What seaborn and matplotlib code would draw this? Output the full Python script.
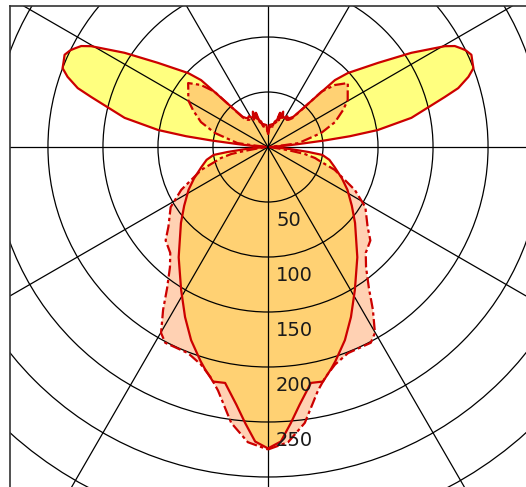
import numpy as np
import matplotlib
matplotlib.use("Agg")
import matplotlib.pyplot as plt
from matplotlib.patches import Circle
import seaborn as sns

# polar intensity curves, gamma in degrees (0 = straight down), mirrored left/right
solid_gamma = [0, 2.5, 4.7, 7.0, 10.3, 13.2, 15.8, 17.5, 21.7, 26.0, 31.3, 39.0, 48.9,
               55.0, 61.7, 67.0, 73.4, 78.2, 81.7, 83.0, 84.5, 86.0, 88.0, 90.0, 93.0, 94.2,
               95.5, 96.6, 97.5, 98.8, 101.5, 105.8, 107.2, 109.3, 111.0, 112.3, 114.4,
               116.1, 117.1, 118.4, 119.7, 123.3, 127.4, 132.8, 135.0, 136.1, 138.2,
               140.0, 142.9, 145.4, 148.0, 150.4, 153.0, 156.8, 158.5, 160.6, 161.5,
               165.0, 167.3, 170.0, 176.0, 180.0]
solid_cd = [274, 268, 252, 236, 218, 219, 210, 204, 189, 172, 152, 129, 105,
            93, 82, 73, 63, 57, 50, 37, 22, 10, 4, 2, 3, 15,
            28, 52, 75, 101, 133, 167, 181, 193, 200, 201, 203,
            200, 197, 193, 185, 156, 126, 99, 86, 66, 45,
            36, 33, 32, 33, 31, 30, 35, 28, 33, 26,
            24, 20, 21, 20, 12]

dashed_gamma = [0, 3.9, 7.6, 11.6, 13.9, 17.1, 21.2, 27.7, 29.9, 32.8, 35.5, 39.2, 42.7,
                47.6, 51.3, 58.3, 63.7, 71.1, 75.5, 76.8, 79.2, 80.5, 82.0, 85.0, 90.0,
                95.0, 96.5, 97.3, 104.8, 106.6, 110.4, 116.2, 120.4, 125.5, 128.7, 132.8,
                136.0, 138.2, 140.0, 142.9, 145.4, 148.0, 150.4, 153.0, 156.8, 158.5,
                160.6, 161.5, 165.0, 167.3, 170.0, 176.0, 180.0]
dashed_cd = [275, 269, 253, 226, 216, 207, 201, 201, 195, 176, 158, 141, 131,
             126, 116, 104, 88, 64, 47, 44, 34, 22, 10, 3, 2,
             3, 15, 28, 50, 54, 65, 76, 84, 89, 93, 83,
             70, 43, 34, 31, 30, 31, 29, 28, 32, 26,
             30, 24, 22, 19, 19, 18, 11]

ring_values = [50, 100, 150, 200, 250, 300, 350, 400]
ring_labels = ["50", "100", "150", "200", "250"]


def to_xy(gamma, cd):
    g = np.radians(np.asarray(gamma, dtype=float))
    r = np.asarray(cd, dtype=float)
    x_right, y_right = r * np.sin(g), -r * np.cos(g)
    x = np.concatenate([x_right, -x_right[::-1]])
    y = np.concatenate([y_right, y_right[::-1]])
    return x, y


sns.set_style("white")
fig = plt.figure(figsize=(5.26, 4.87), dpi=100)
ax = fig.add_axes([10 / 526, 0, 516 / 526, 481 / 487])

xs, ys = to_xy(solid_gamma, solid_cd)
xd, yd = to_xy(dashed_gamma, dashed_cd)

# fills: yellow for the solid plane, salmon for the dashed one, overlap turns orange
ax.fill(xs, ys, color="#FFFF00", alpha=0.5, lw=0, zorder=1)
ax.fill(xd, yd, color="#FFA569", alpha=0.5, lw=0, zorder=1)

# polar grid
for v in ring_values:
    ax.add_patch(Circle((0, 0), v, fill=False, color="black", lw=0.9, zorder=2))
for ang in [0, 30, 60, 90, 120, 150]:
    a = np.radians(ang)
    ax.axline((0, 0), (np.sin(a), np.cos(a)), color="black", lw=0.9, zorder=2)

sns.lineplot(x=np.append(xs, xs[0]), y=np.append(ys, ys[0]), sort=False, estimator=None,
             color="#CC0000", lw=1.6, ax=ax, zorder=3)
sns.lineplot(x=np.append(xd, xd[0]), y=np.append(yd, yd[0]), sort=False, estimator=None,
             color="#CC0000", lw=1.6, linestyle=(0, (5, 1.5, 1.5, 1.5)), ax=ax, zorder=3)

for v, lab in zip(ring_values, ring_labels):
    ax.text(7.3, -(v + 17), lab, fontsize=14, color="#1a1a1a", ha="left", va="center",
            zorder=4)

ax.set_xlim(-234.5, 234.5)
ax.set_ylim(-309.1, 128.2)
ax.set_xticks([])
ax.set_yticks([])
ax.set_xlabel("")
ax.set_ylabel("")
for side in ["right", "bottom"]:
    ax.spines[side].set_visible(False)
for side in ["left", "top"]:
    ax.spines[side].set_color("#333333")
    ax.spines[side].set_linewidth(1.2)

fig.savefig("out.png", dpi=100)
